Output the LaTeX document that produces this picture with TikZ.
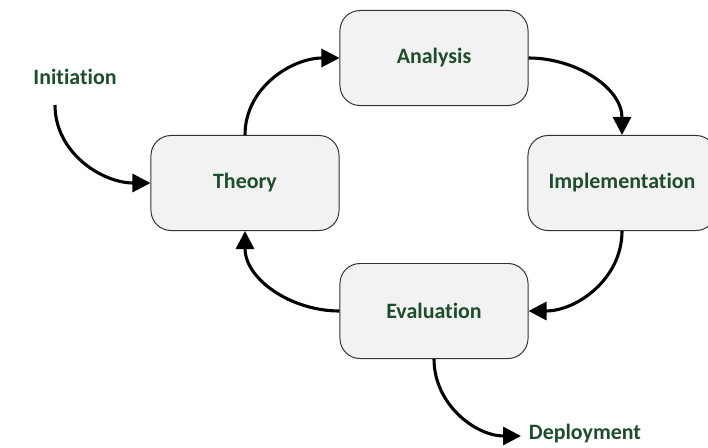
\documentclass[tikz,border=0pt]{standalone}
\usepackage{fontspec}
\setmainfont[Ligatures={NoCommon,NoRare}]{Carlito}
\usepackage{tikz}
\usetikzlibrary{arrows.meta,positioning}

\definecolor{boxfill}{HTML}{F2F2F2}
\definecolor{labelgreen}{HTML}{1E4D2B}

\tikzset{
	phase/.style={draw=black!80, line width=0.7pt, fill=boxfill, rounded corners=0.5cm,
		minimum width=4.7cm, minimum height=2.375cm, text=labelgreen,
		font=\fontsize{15.6}{18}\selectfont\bfseries},
	outer/.style={text=labelgreen, font=\fontsize{15.6}{18}\selectfont\bfseries},
	flow/.style={line width=2.2pt, -{Triangle[length=0.45cm,width=0.45cm]}}
}

\begin{document}
\begin{tikzpicture}[x=0.025cm, y=-0.025cm]
	
	\useasboundingbox (0,0) rectangle (708,447);
	
	% the four phases
	\node[phase] (analysis) at (434,58) {Analysis};
	\node[phase] (theory) at (245,183) {Theory};
	\node[phase] (impl) at (622,183) {Implementation};
	\node[phase] (eval) at (434,311) {Evaluation};
	
	% entry and exit
	\node[outer] (init) at (75,77) {Initiation};
	\node[outer] (deploy) at (585,434) {Deployment};
	\coordinate (initstart) at (55,105);
	\coordinate (deployend) at (521,436);
	
	% the cycle
	\draw[flow] (theory.north) to[out=90,in=180] (analysis.west);
	\draw[flow] (analysis.east) to[out=0,in=90] (impl.north);
	\draw[flow] (impl.south) to[out=-90,in=0] (eval.east);
	\draw[flow] (eval.west) to[out=180,in=-90] (theory.south);
	
	\draw[flow] (initstart) to[out=-90,in=180] (theory.west);
	\draw[flow] (eval.south) to[out=-90,in=180] (deployend);
\end{tikzpicture}
\end{document}
